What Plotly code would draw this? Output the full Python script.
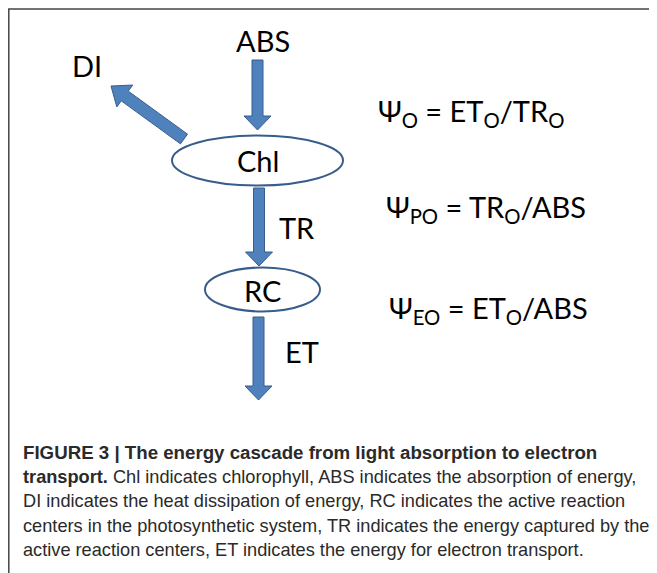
import math
import plotly.graph_objects as go

# Page is 657x573; the html body adds an 8px margin, so the figure is 649x565
# and its axes map directly onto page pixel coordinates [8..657] x [8..573].
PAGE_W, PAGE_H = 657, 573
OFF = 8
W, H = PAGE_W - OFF, PAGE_H - OFF

# Nodes (ellipses): name, center x, center y, rx, ry
node_names = ["Chl", "RC"]
node_cx = [257.5, 262.5]
node_cy = [160.5, 289.5]
node_rx = [85.5, 57.5]
node_ry = [25, 22]
node_text_y = [160.7, 290]

# Arrows: start (x,y) -> tip (x,y)
arrow_names = ["ABS", "DI", "TR", "ET"]
arrow_x0 = [257.5, 184.0, 259.0, 258.5]
arrow_y0 = [60.0, 139.0, 188.0, 317.0]
arrow_x1 = [257.5, 111.0, 259.0, 258.5]
arrow_y1 = [130.0, 86.0, 266.0, 400.0]

# Labels
label_texts = ["ABS", "DI", "TR", "ET"]
label_x = [263, 87, 297, 302]
label_y = [40.5, 65, 227.5, 351.5]

# Formulas
formula_texts = [
    "Ψ<sub>O</sub> = ET<sub>O</sub>/TR<sub>O</sub>",
    "Ψ<sub>PO</sub> = TR<sub>O</sub>/ABS",
    "Ψ<sub>EO</sub> = ET<sub>O</sub>/ABS",
]
formula_x = [376, 384, 387]
formula_y = [112, 208, 309]

# Caption lines
caption_lines = [
    "<b>FIGURE 3 | The energy cascade from light absorption to electron</b>",
    "<b>transport.</b> Chl indicates chlorophyll, ABS indicates the absorption of energy,",
    "DI indicates the heat dissipation of energy, RC indicates the active reaction",
    "centers in the photosynthetic system, TR indicates the energy captured by the",
    "active reaction centers, ET indicates the energy for electron transport.",
]
caption_y = [452, 477, 501, 526, 550]
caption_size = [18.7, 18.2, 18.2, 18.2, 18.2]

BLUE = "#4F81BD"
DARK = "#385D8A"
FONT = "Lato, 'Open Sans', sans-serif"

fig = go.Figure()


def arrow_poly(x0, y0, x1, y1, sw=11, hw=27, hl=15):
    dx, dy = x1 - x0, y1 - y0
    L = math.hypot(dx, dy)
    ux, uy = dx / L, dy / L
    px, py = -uy, ux
    bx, by = x1 - ux * hl, y1 - uy * hl
    pts = [
        (x0 + px * sw / 2, y0 + py * sw / 2),
        (bx + px * sw / 2, by + py * sw / 2),
        (bx + px * hw / 2, by + py * hw / 2),
        (x1, y1),
        (bx - px * hw / 2, by - py * hw / 2),
        (bx - px * sw / 2, by - py * sw / 2),
        (x0 - px * sw / 2, y0 - py * sw / 2),
    ]
    return "M " + " L ".join(f"{x:.2f},{y:.2f}" for x, y in pts) + " Z"


shapes = []
# frame (left and top edges)
shapes.append(dict(type="path", path=f"M 8.8,{PAGE_H} L 8.8,9 L {PAGE_W},9",
                   line=dict(color="#444444", width=1.5), layer="above"))
for i in range(len(arrow_names)):
    hw = 27 if arrow_names[i] == "DI" else 27
    hl = 17 if arrow_names[i] == "DI" else 14
    sw = 12 if arrow_names[i] == "DI" else 11
    shapes.append(dict(type="path",
                       path=arrow_poly(arrow_x0[i], arrow_y0[i], arrow_x1[i], arrow_y1[i], sw, hw, hl),
                       fillcolor=BLUE, line=dict(color=DARK, width=1)))
for i in range(len(node_names)):
    shapes.append(dict(type="circle",
                       x0=node_cx[i] - node_rx[i], x1=node_cx[i] + node_rx[i],
                       y0=node_cy[i] - node_ry[i], y1=node_cy[i] + node_ry[i],
                       fillcolor="white", line=dict(color=DARK, width=2)))

ann = []
for i in range(len(node_names)):
    ann.append(dict(x=node_cx[i], y=node_text_y[i], text=node_names[i], showarrow=False,
                    font=dict(family=FONT, size=29, color="black"),
                    xanchor="center", yanchor="middle"))
for i in range(len(label_texts)):
    ann.append(dict(x=label_x[i], y=label_y[i], text=label_texts[i], showarrow=False,
                    font=dict(family=FONT, size=29, color="black"),
                    xanchor="center", yanchor="middle"))
for i in range(len(formula_texts)):
    ann.append(dict(x=formula_x[i], y=formula_y[i], text=formula_texts[i], showarrow=False,
                    font=dict(family=FONT, size=29, color="black"),
                    xanchor="left", yanchor="middle"))
for i in range(len(caption_lines)):
    ann.append(dict(x=21, y=caption_y[i], text=caption_lines[i], showarrow=False,
                    font=dict(family="'Liberation Sans', Arial, sans-serif",
                              size=caption_size[i], color="#2a2a2a"),
                    xanchor="left", yanchor="middle", align="left"))

fig.update_layout(
    width=W, height=H, margin=dict(l=0, r=0, t=0, b=0),
    paper_bgcolor="white", plot_bgcolor="white",
    xaxis=dict(range=[OFF, PAGE_W], visible=False, fixedrange=True),
    yaxis=dict(range=[PAGE_H, OFF], visible=False, fixedrange=True),
    shapes=shapes, annotations=ann, showlegend=False,
)
fig.write_html("out.html")
